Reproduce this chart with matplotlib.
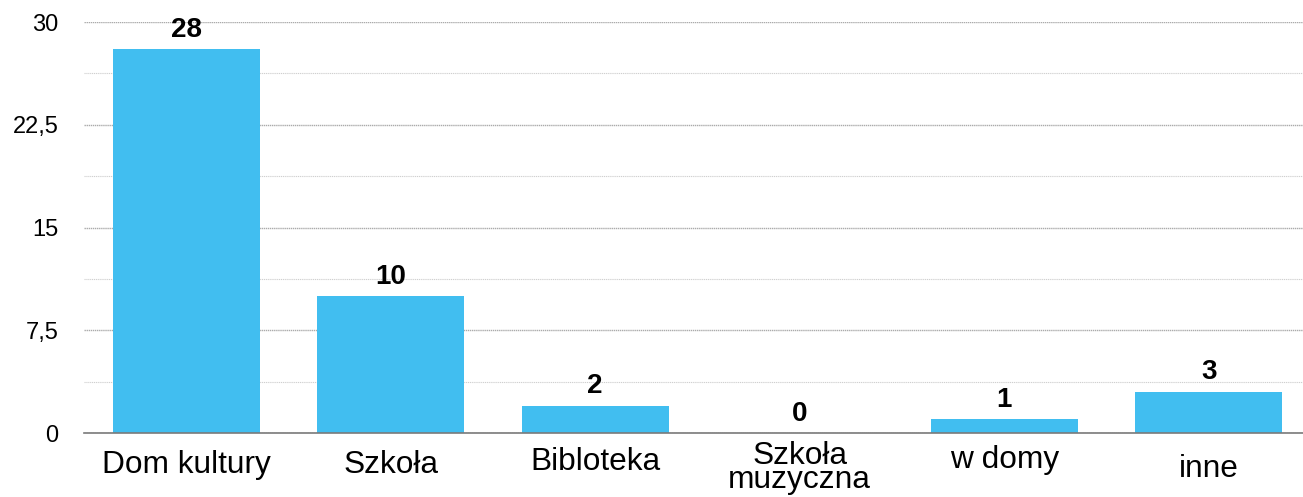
import matplotlib
matplotlib.use('Agg')
from matplotlib import pyplot as plt
import numpy as np

categories = ['Dom kultury', 'Szkoła', 'Bibloteka', 'Szkoła\nmuzyczna', 'w domy', 'inne']
values = [28, 10, 2, 0, 1, 3]
yticks = [0, 7.5, 15, 22.5, 30]
ytick_labels = ['0', '7,5', '15', '22,5', '30']

# per-label baseline drop below the axis (pt), as in the original
label_drop = [28.8, 28.8, 26.6, 39.5, 25.5, 31.5]

plt.rcParams['font.family'] = ['Liberation Sans', 'DejaVu Sans']

fig = plt.figure(figsize=(13.03, 4.97), dpi=100)
ax = fig.add_axes([84/1303, 64/497, 1227/1303, 411/497])

x = np.arange(len(categories))
ax.bar(x, values, width=0.72, color='#41BEF0', zorder=3)

ax.set_xlim(-0.5, len(categories) - 0.5)
ax.set_ylim(0, 30)
ax.set_yticks(yticks)
ax.set_yticklabels(ytick_labels, fontsize=17)
ax.set_yticks(np.arange(3.75, 30, 7.5), minor=True)
ax.tick_params(axis='y', which='both', length=0, pad=18.5)
ax.set_xticks([])

ax.grid(axis='y', which='major', color='#ababab', linestyle=(0, (1, 0.5)), linewidth=1.0, zorder=0)
ax.grid(axis='y', which='minor', color='#cfcfcf', linestyle=(0, (1, 0.7)), linewidth=0.8, zorder=0)

for s in ['top', 'right', 'left']:
    ax.spines[s].set_visible(False)
ax.spines['bottom'].set_color('#7a7a7a')
ax.spines['bottom'].set_linewidth(1.2)
ax.spines['bottom'].set_zorder(4)

for i, v in enumerate(values):
    ax.annotate(str(v), xy=(i, v), xytext=(0, 14), textcoords='offset points',
                ha='center', va='center', fontsize=20, fontweight='bold', color='black')

for i, c in enumerate(categories):
    ax.annotate(c, xy=(i, 0), xytext=(0, -label_drop[i]), textcoords='offset points',
                ha='center', va='baseline', fontsize=22.8, linespacing=0.72,
                annotation_clip=False)

fig.savefig('out.png', dpi=100)
